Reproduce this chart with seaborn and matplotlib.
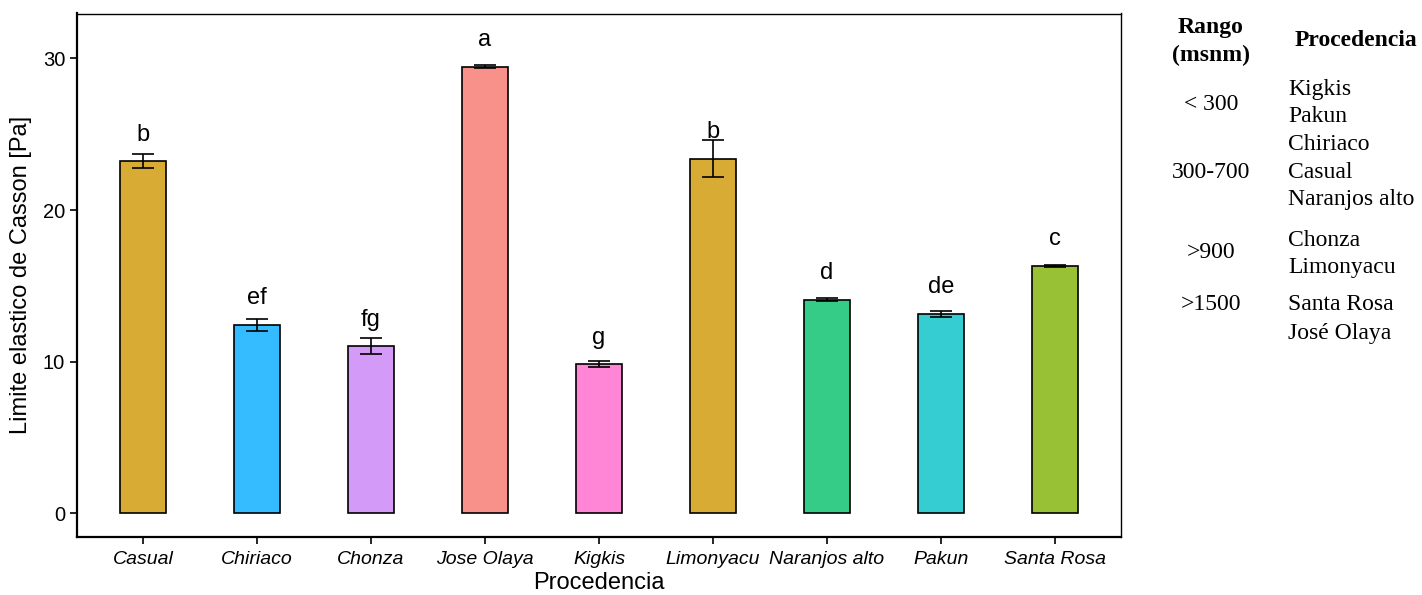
import matplotlib
matplotlib.use("Agg")
import matplotlib.pyplot as plt
import seaborn as sns
import pandas as pd

# Mean Casson yield stress per origin, with standard error and Tukey letters
procedencia = ["Casual", "Chiriaco", "Chonza", "Jose Olaya", "Kigkis",
               "Limonyacu", "Naranjos alto", "Pakun", "Santa Rosa"]
limite = [23.22, 12.45, 11.04, 29.45, 9.85, 23.39, 14.09, 13.17, 16.33]
error = [0.47, 0.40, 0.54, 0.10, 0.20, 1.22, 0.10, 0.19, 0.05]
letras = ["b", "ef", "fg", "a", "g", "b", "d", "de", "c"]
colores = ["#D8AB35", "#35BBFF", "#D49AF8", "#F8918A", "#FF85D6",
           "#D8AB35", "#35CC88", "#35CDD1", "#98C135"]

# Altitude table shown beside the chart
rangos = ["< 300", "300-700", ">900", ">1500"]
rango_y = [104, 172, 253, 305]
tabla_proc = ["Kigkis", "Pakun", "Chiriaco", "Casual", "Naranjos alto",
              "Chonza", "Limonyacu", "Santa Rosa", "José Olaya"]
tabla_y = [90, 117, 145, 172, 200, 240, 268, 305, 333]

df = pd.DataFrame({"procedencia": procedencia, "limite": limite})

sns.set_theme(style="white")
plt.rcParams["font.family"] = ["Liberation Sans", "DejaVu Sans"]
plt.rcParams["text.color"] = "black"
plt.rcParams["axes.labelcolor"] = "black"

W, H = 1422, 595
fig = plt.figure(figsize=(W / 100, H / 100), dpi=100)
ax = fig.add_axes([77 / W, 1 - 537 / H, (1121 - 77) / W, (537 - 13.5) / H])

sns.barplot(data=df, x="procedencia", y="limite", hue="procedencia",
            palette=colores, saturation=1, width=0.4, edgecolor="black",
            linewidth=1.2, legend=False, errorbar=None, ax=ax)
ax.errorbar(range(len(procedencia)), limite, yerr=error, fmt="none",
            ecolor="black", elinewidth=1.2, capsize=8, capthick=1.2)

for i, (v, e, t) in enumerate(zip(limite, error, letras)):
    ax.text(i, v + 1.35, t, ha="center", va="baseline", fontsize=17,
            color="black")

ax.set_xlim(-0.58, 8.58)
ax.set_ylim(-1.55, 32.96)
ax.set_yticks([0, 10, 20, 30])
ax.set_xlabel("Procedencia", fontsize=17, color="black", labelpad=3)
ax.set_ylabel("Limite elastico de Casson [Pa]", fontsize=17, color="black",
              labelpad=8)
ax.tick_params(axis="both", which="major", length=5, width=1.2,
               color="black", labelcolor="black", labelsize=14,
               bottom=True, left=True)
ax.tick_params(axis="x", pad=5)
ax.tick_params(axis="y", labelsize=14.5)
for lbl in ax.get_xticklabels():
    lbl.set_fontstyle("italic")
for side, sp in ax.spines.items():
    sp.set_color("black")
    sp.set_linewidth(1.6 if side in ("left", "bottom") else 1.0)

serif = ["Liberation Serif", "DejaVu Serif"]
fig.text(1211 / W, 1 - 28 / H, "Rango", ha="center", va="center",
         fontsize=17, fontweight="bold", family=serif, color="black")
fig.text(1211 / W, 1 - 55 / H, "(msnm)", ha="center", va="center",
         fontsize=17, fontweight="bold", family=serif, color="black")
fig.text(1295 / W, 1 - 41 / H, "Procedencia", ha="left", va="center",
         fontsize=17, fontweight="bold", family=serif, color="black")
for r, y in zip(rangos, rango_y):
    fig.text(1211 / W, 1 - y / H, r, ha="center", va="center",
             fontsize=17, family=serif, color="black")
for p, y in zip(tabla_proc, tabla_y):
    fig.text(1288 / W, 1 - y / H, p, ha="left", va="center",
             fontsize=17, family=serif, color="black")

fig.savefig("out.png", dpi=100, facecolor="white")
